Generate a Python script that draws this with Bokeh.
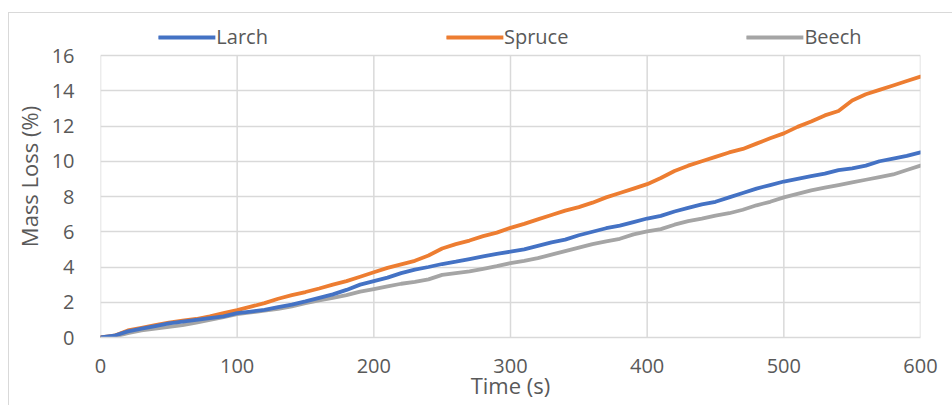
from bokeh.plotting import figure
from bokeh.models import Legend, LegendItem, FixedTicker, InlineStyleSheet
from bokeh.embed import file_html
from bokeh.resources import INLINE

time_s = [0, 10, 20, 30, 40, 50, 60, 70, 80, 90, 100, 110, 120, 130, 140, 150, 160, 170, 180, 190,
          200, 210, 220, 230, 240, 250, 260, 270, 280, 290, 300, 310, 320, 330, 340, 350, 360, 370,
          380, 390, 400, 410, 420, 430, 440, 450, 460, 470, 480, 490, 500, 510, 520, 530, 540, 550,
          560, 570, 580, 590, 600]

larch = [0, 0.1, 0.35, 0.5, 0.65, 0.8, 0.9, 1.0, 1.1, 1.2, 1.38, 1.47, 1.57, 1.72, 1.87, 2.05,
         2.25, 2.45, 2.7, 3.0, 3.2, 3.4, 3.65, 3.85, 4.0, 4.17, 4.3, 4.45, 4.6, 4.75, 4.87, 5.0,
         5.2, 5.4, 5.55, 5.8, 6.0, 6.2, 6.35, 6.55, 6.75, 6.9, 7.15, 7.35, 7.55, 7.7, 7.95, 8.2,
         8.45, 8.65, 8.85, 9.0, 9.15, 9.3, 9.5, 9.6, 9.75, 10.0, 10.15, 10.3, 10.5]

spruce = [0, 0.1, 0.4, 0.55, 0.7, 0.85, 0.95, 1.05, 1.2, 1.38, 1.55, 1.75, 1.95, 2.2, 2.4, 2.58,
          2.78, 3.0, 3.2, 3.45, 3.7, 3.95, 4.15, 4.35, 4.65, 5.05, 5.3, 5.5, 5.75, 5.95, 6.22,
          6.45, 6.7, 6.95, 7.2, 7.4, 7.65, 7.95, 8.2, 8.45, 8.7, 9.05, 9.45, 9.75, 10.0, 10.25,
          10.5, 10.7, 11.0, 11.3, 11.58, 11.95, 12.25, 12.6, 12.85, 13.45, 13.8, 14.05, 14.3,
          14.55, 14.8]

beech = [0, 0.05, 0.25, 0.4, 0.5, 0.6, 0.7, 0.85, 1.0, 1.15, 1.32, 1.42, 1.52, 1.62, 1.77, 1.95,
         2.1, 2.25, 2.4, 2.6, 2.75, 2.9, 3.05, 3.15, 3.3, 3.55, 3.65, 3.75, 3.9, 4.05, 4.22, 4.35,
         4.5, 4.7, 4.9, 5.1, 5.3, 5.45, 5.6, 5.85, 6.02, 6.15, 6.4, 6.6, 6.75, 6.92, 7.05, 7.25,
         7.5, 7.7, 7.95, 8.15, 8.35, 8.5, 8.65, 8.8, 8.95, 9.1, 9.25, 9.5, 9.75]

series_names = ["Larch", "Spruce", "Beech"]
x_ticks = [0, 100, 200, 300, 400, 500, 600]
y_ticks = [0, 2, 4, 6, 8, 10, 12, 14, 16]
y_max = 16

FONT = "Open Sans"
TEXT = "#595959"
GRID = "#d9d9d9"

# pixel layout: frame from y=15 to y=337, value 16 sits at y=55
FRAME_TOP = 15
PX_PER_UNIT = (337 - 55) / 16.0
y_top = y_max + (55 - FRAME_TOP) / PX_PER_UNIT

border_css = InlineStyleSheet(css="""
:host::after {
  content: "";
  position: absolute;
  left: 8px;
  top: 12px;
  width: calc(100% - 8px);
  height: calc(100% - 12px);
  border-left: 1.5px solid #d9d9d9;
  border-top: 1.5px solid #d9d9d9;
  box-sizing: border-box;
  pointer-events: none;
}
""")

p = figure(width=952, height=405, output_backend="svg", toolbar_location=None,
           x_range=(0, 600), y_range=(0, y_top),
           min_border_left=100, min_border_right=32, min_border_top=FRAME_TOP, min_border_bottom=68)
p.stylesheets = [border_css]
p.background_fill_color = "white"
p.border_fill_color = "white"
p.outline_line_color = None

p.xaxis.ticker = FixedTicker(ticks=x_ticks)
p.yaxis.ticker = FixedTicker(ticks=y_ticks)
p.xgrid.visible = False
p.ygrid.ticker = FixedTicker(ticks=y_ticks)
p.ygrid.grid_line_color = GRID
p.ygrid.grid_line_width = 1.5

# vertical grid lines limited to the 0..16 value band
p.segment(x0=x_ticks, y0=[0] * len(x_ticks), x1=x_ticks, y1=[y_max] * len(x_ticks),
          line_color=GRID, line_width=1.5)

for ax in (p.xaxis[0], p.yaxis[0]):
    ax.major_tick_line_color = None
    ax.minor_tick_line_color = None
    ax.major_label_text_font = FONT
    ax.major_label_text_font_size = "20px"
    ax.major_label_text_color = TEXT
    ax.axis_label_text_font = FONT
    ax.axis_label_text_font_size = "22px"
    ax.axis_label_text_font_style = "normal"
    ax.axis_label_text_color = TEXT

p.xaxis.axis_line_color = GRID
p.xaxis.axis_line_width = 1.5
p.yaxis.axis_line_color = None
p.xaxis.axis_label = "Time (s)"
p.yaxis.axis_label = "Mass Loss (%)"
p.xaxis.major_label_standoff = 15
p.yaxis.major_label_standoff = 20
p.xaxis.axis_label_standoff = -6
p.yaxis.axis_label_standoff = 5

rb = p.line(time_s, beech, line_color="#A5A5A5", line_width=3.8, line_join="round", line_cap="round")
rs = p.line(time_s, spruce, line_color="#ED7D31", line_width=3.8, line_join="round", line_cap="round")
rl = p.line(time_s, larch, line_color="#4472C4", line_width=3.8, line_join="round", line_cap="round")

legend = Legend(items=[LegendItem(label=series_names[0], renderers=[rl]),
                       LegendItem(label=series_names[1], renderers=[rs]),
                       LegendItem(label=series_names[2], renderers=[rb])],
                orientation="horizontal", location="top_center", spacing=178,
                glyph_width=57, glyph_height=18, label_standoff=1, label_height=18,
                padding=0, margin=8, border_line_color=None, background_fill_alpha=0,
                label_text_font=FONT, label_text_font_size="20px", label_text_color=TEXT)
p.add_layout(legend, "center")

open("out.html", "w").write(file_html(p, INLINE))
